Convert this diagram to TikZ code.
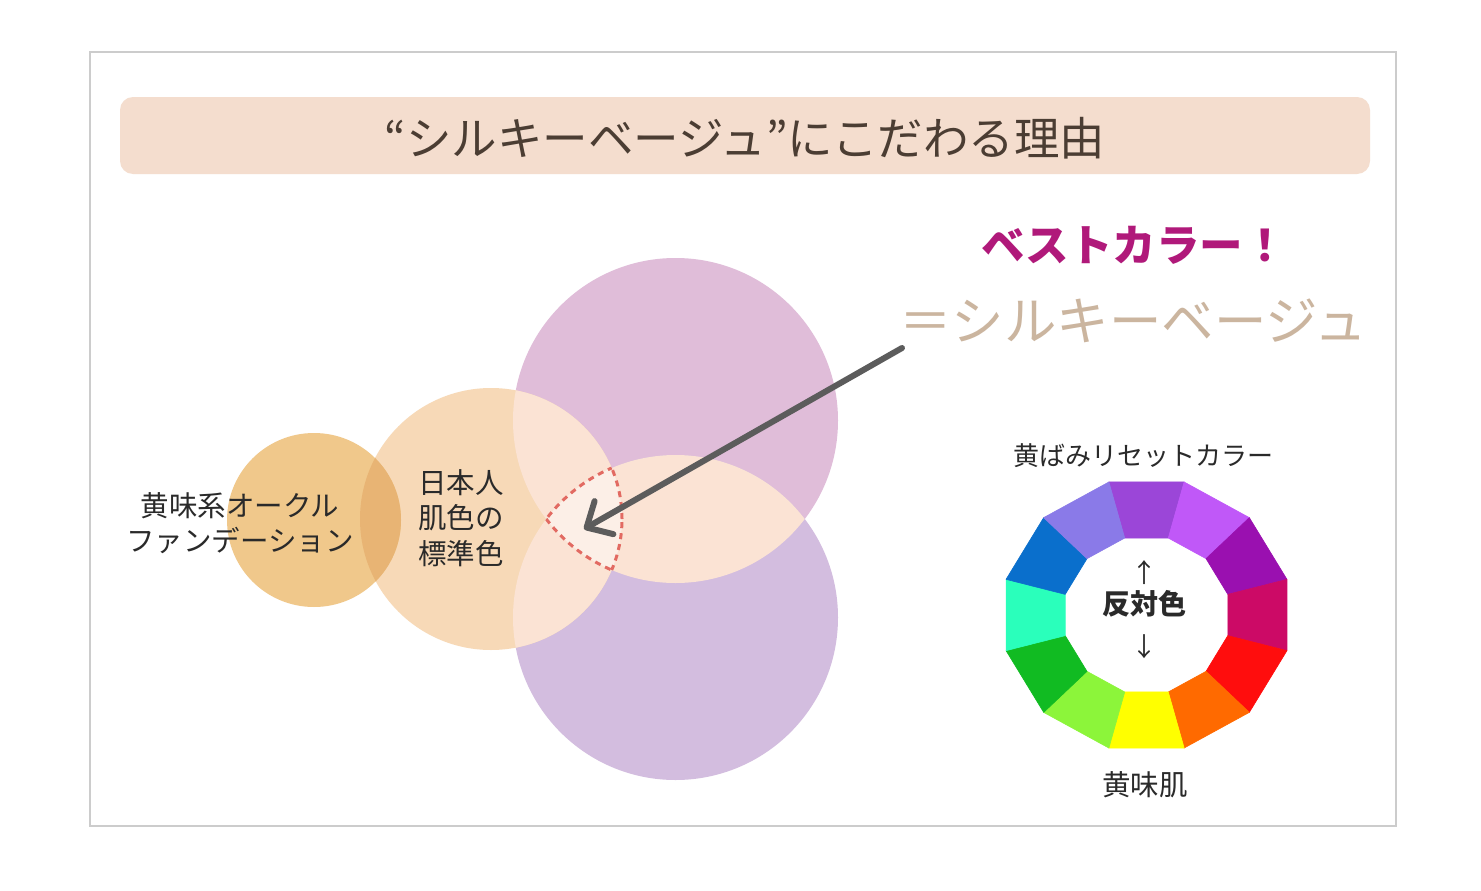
\documentclass[tikz,border=0pt]{standalone}
\usepackage{fontspec}
\setmainfont{Noto Sans CJK JP}
\usetikzlibrary{arrows.meta}
\definecolor{framegray}{HTML}{CCCCCC}
\definecolor{titlebg}{HTML}{F4DDCE}
\definecolor{titletext}{HTML}{4B3D33}
\definecolor{purpleA}{HTML}{E0BDD9}
\definecolor{purpleB}{HTML}{D3BDDF}
\definecolor{peachM}{HTML}{F7D9B7}
\definecolor{peachL}{HTML}{FBE3D4}
\definecolor{peachXL}{HTML}{FCEFE7}
\definecolor{tanS}{HTML}{F0C88B}
\definecolor{tanD}{HTML}{E8B474}
\definecolor{dashred}{HTML}{E26A62}
\definecolor{arrowgray}{HTML}{5C5C5C}
\definecolor{bestmag}{HTML}{B0197A}
\definecolor{silktan}{HTML}{CBB59F}
\definecolor{txtdark}{HTML}{2A2A2A}
\definecolor{w1}{HTML}{9B46D8}
\definecolor{w2}{HTML}{C058F8}
\definecolor{w3}{HTML}{9A10B0}
\definecolor{w4}{HTML}{CC0A66}
\definecolor{w5}{HTML}{FF0D0D}
\definecolor{w6}{HTML}{FF6A00}
\definecolor{w7}{HTML}{FFFF00}
\definecolor{w8}{HTML}{8CF53A}
\definecolor{w9}{HTML}{11BB22}
\definecolor{w10}{HTML}{2AFFBB}
\definecolor{w11}{HTML}{0A6FCC}
\definecolor{w12}{HTML}{8A7AE8}
\tikzset{
  lbl/.style={text=txtdark, inner sep=0pt, align=center},
  f28/.style={font=\fontsize{28.5}{35.5}\selectfont},
  f26/.style={font=\fontsize{26}{32}\selectfont},
}
\begin{document}
\begin{tikzpicture}[x=1pt,y=-1pt]
\useasboundingbox (0,0) rectangle (1481,891);
\fill[white] (0,0) rectangle (1481,891);
% frame
\draw[framegray, line width=2pt] (90,52) rectangle (1396,826);
% title band
\fill[titlebg, rounded corners=13pt] (120,97) rectangle (1370,174);
\node[inner sep=0pt, text=titletext, font=\fontsize{45.5}{52}\selectfont] (title) at (745,138) {“シルキーベージュ”にこだわる理由};

% circles
\def\topP{(675.5,420.5) circle[radius=162.5pt]}
\def\botP{(675.5,617.5) circle[radius=162.5pt]}
\def\medC{(491,519) circle[radius=131pt]}
\def\smlC{(314,520) circle[radius=87pt]}
\fill[purpleA] \topP;
\fill[purpleB] \botP;
\begin{scope}\clip \topP; \fill[peachL] \botP; \end{scope}
\fill[peachM] \medC;
\begin{scope}\clip \medC; \fill[peachL] \topP; \fill[peachL] \botP; \end{scope}
\fill[tanS] \smlC;
\begin{scope}\clip \smlC; \fill[tanD] \medC; \end{scope}
% triple intersection
\begin{scope}\clip \medC; \clip \topP; \fill[peachXL] \botP; \end{scope}
\begin{scope}[dashred, line width=3pt, dash pattern=on 6pt off 5pt]
\begin{scope}\clip \topP; \clip \botP; \draw \medC; \end{scope}
\begin{scope}\clip \medC; \clip \botP; \draw \topP; \end{scope}
\begin{scope}\clip \medC; \clip \topP; \draw \botP; \end{scope}
\end{scope}

% circle labels
\node[lbl, f28] (ochre) at (240,523) {黄味系オークル\\ファンデーション};
\node[lbl, f28] (std) at (461,518) {日本人\\肌色の\\標準色};

% best color text
\node[inner sep=0pt, text=bestmag, font=\fontsize{43.5}{50}\selectfont\bfseries] (best) at (1134,245) {ベストカラー！};
\node[inner sep=0pt, text=silktan, font=\fontsize{52.5}{60}\selectfont] (silk) at (1133,321) {＝シルキーベージュ};

% arrow
\coordinate (astart) at (902,348);
\coordinate (atip) at (584,529);
\draw[arrowgray, line width=6pt, line cap=round, -{Straight Barb[length=20pt,width=38pt,round]}] (astart) -- (atip);

% color wheel
\node[lbl, f26] (reset) at (1143,456) {黄ばみリセットカラー};
\begin{scope}[shift={(1146.5,615)}, xscale=1.056]
\foreach \a/\c in {90/w1, 60/w2, 30/w3, 0/w4, -30/w5, -60/w6, -90/w7, -120/w8, -150/w9, 180/w10, 150/w11, 120/w12}
  \filldraw[fill=\c, draw=\c, line width=0.6pt, line join=round] ({-\a-15}:137.7) -- ({-\a+15}:137.7) -- ({-\a+15}:79.7) -- ({-\a-15}:79.7) -- cycle;
\end{scope}
\node[lbl, font=\fontsize{26}{30}\selectfont] (up) at (1144,573) {↑};
\node[lbl, font=\fontsize{28}{32}\selectfont\bfseries] (opp) at (1144,604) {反対色};
\node[lbl, font=\fontsize{26}{30}\selectfont] (down) at (1144,647) {↓};
\node[lbl, f28] (yskin) at (1145,785) {黄味肌};
\end{tikzpicture}
\end{document}
